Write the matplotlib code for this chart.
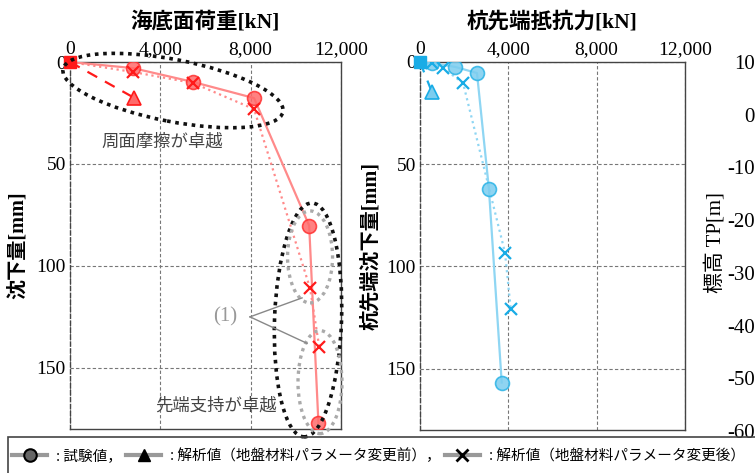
import matplotlib
matplotlib.use("Agg")
import matplotlib.pyplot as plt
from matplotlib.patches import Ellipse, Rectangle
from matplotlib.lines import Line2D
from matplotlib.transforms import ScaledTranslation

plt.rcParams['axes.unicode_minus'] = False

JP = ['Liberation Serif', 'Noto Sans CJK JP']
GOTH = ['Noto Sans CJK JP', 'DejaVu Sans']

# 海底面荷重 - 沈下量
head_test_load = [0, 2790, 5450, 8150, 10590, 11000]
head_test_settle = [0, 3.0, 9.8, 17.7, 80.2, 177]
head_before_load = [0, 2830]
head_before_settle = [0, 17.5]
head_after_load = [0, 2790, 5450, 8150, 10630, 11040]
head_after_settle = [0, 4.9, 10.3, 23.1, 111, 140]

# 杭先端抵抗力 - 杭先端沈下量
tip_test_load = [0, 540, 1590, 2580, 3120, 3700]
tip_test_settle = [0, 0.5, 2.4, 5.4, 62, 156.8]
tip_before_load = [0, 540]
tip_before_settle = [0, 14.7]
tip_after_load = [0, 540, 1040, 1950, 3850, 4110]
tip_after_settle = [0, 0.5, 2.9, 10.3, 93.3, 121]

x_ticks = [0, 4000, 8000, 12000]
y_ticks = [0, 50, 100, 150]
elev_ticks = [10, 0, -10, -20, -30, -40, -50, -60]

legend_labels = [': 試験値，', ': 解析値（地盤材料パラメータ変更前），',
                 ': 解析値（地盤材料パラメータ変更後）']

W, H = 755, 473
fig = plt.figure(figsize=(W / 100, H / 100), dpi=100)


def setup(ax):
    ax.set_xlim(0, 12000)
    ax.set_ylim(180, 0)
    ax.xaxis.tick_top()
    ax.set_xticks(x_ticks)
    ax.set_xticklabels([f"{v:,}" for v in x_ticks])
    ax.set_yticks(y_ticks)
    ax.tick_params(length=0, pad=3, labelsize=14)
    for lab in ax.get_xticklabels() + ax.get_yticklabels():
        lab.set_family('Liberation Serif')
    ax.grid(True, ls=(0, (3, 2)), color='#777', lw=0.8)
    for s in ax.spines.values():
        s.set_color('#444')
        s.set_linewidth(1)
    ax.spines['left'].set_linestyle((0, (3, 2)))


def draw_series(ax, tl, ts, bl, bs, al, as_, line_c, face_c, edge_c, mark_c):
    ax.plot(tl, ts, '-', color=line_c, lw=1.6, zorder=3)
    ax.plot(al, as_, ':', color=line_c, lw=1.6, zorder=3)
    ax.plot(bl, bs, '--', color=mark_c, lw=1.6, dashes=(5, 4), zorder=3)
    ax.plot(tl[1:], ts[1:], 'o', ms=10, mfc=face_c, mec=edge_c, mew=1.2,
            alpha=0.85, zorder=4)
    ax.plot(tl[:1], ts[:1], 's', ms=8, mfc=mark_c, mec=mark_c, zorder=5,
            clip_on=False)
    ax.plot(al[1:], as_[1:], 'x', ms=9, mec=mark_c, mew=1.6, zorder=5)
    ax.plot(bl[1:], bs[1:], '^', ms=10, mfc=face_c, mec=mark_c, mew=1.2,
            zorder=5)


ax1 = fig.add_axes([70 / W, 1 - 429 / H, 271 / W, 367 / H])
setup(ax1)
draw_series(ax1, head_test_load, head_test_settle, head_before_load,
            head_before_settle, head_after_load, head_after_settle,
            '#ff8a8a', '#ff6b6b', '#ff3030', '#ff1a1a')
ax1.set_ylabel('沈下量[mm]', family=JP, fontsize=14.5, weight='bold',
               labelpad=6)

ax2 = fig.add_axes([420 / W, 1 - 430 / H, 265 / W, 368 / H])
setup(ax2)
draw_series(ax2, tip_test_load, tip_test_settle, tip_before_load,
            tip_before_settle, tip_after_load, tip_after_settle,
            '#8fd6f3', '#7ccdef', '#2ab3e6', '#19ace6')
ax2.set_ylabel('杭先端沈下量[mm]', family=JP, fontsize=14.5, weight='bold',
               labelpad=4)

fig.text(205 / W, 1 - 22 / H, '海底面荷重[kN]', family=JP, fontsize=15.5,
         weight='bold', ha='center', va='center')
fig.text(552 / W, 1 - 22 / H, '杭先端抵抗力[kN]', family=JP, fontsize=15.5,
         weight='bold', ha='center', va='center')

# 標高 axis (mostly outside the figure)
ax3 = fig.add_axes([762 / W, 1 - 431 / H, 0.05, 369 / H])
ax3.set_ylim(-60, 10)
ax3.set_yticks(elev_ticks)
ax3.set_yticklabels([str(v) for v in elev_ticks], family='Liberation Serif',
                    fontsize=15)
ax3.tick_params(length=0, pad=5)
ax3.set_xticks([])
for s in ax3.spines.values():
    s.set_visible(False)
ax3.patch.set_visible(False)
fig.text(715 / W, 1 - 243 / H, '標高 TP[m]', family=JP, fontsize=15,
         rotation=90, ha='center', va='center')


def ellipse(ax, x, y, w, h, ang, color, lw):
    tr = fig.dpi_scale_trans + ScaledTranslation(x, y, ax.transData)
    e = Ellipse((0, 0), w / 100, h / 100, angle=ang, transform=tr,
                fill=False, ec=color, lw=lw, ls=(0, (1, 1.3)),
                clip_on=False, zorder=6)
    ax.add_patch(e)


ellipse(ax1, 4560, 14, 224, 62, -11, '#111', 2.6)
ellipse(ax1, 10540, 126.5, 67, 234, -2, '#111', 2.6)
ellipse(ax1, 10630, 95.6, 45, 92, 0, '#aaa', 2.4)
ellipse(ax1, 11070, 157, 44, 103, 0, '#aaa', 2.4)

ax1.text(4075, 39, '周面摩擦が卓越', family=GOTH, fontsize=12.5,
         color='#444', ha='center', va='center')
ax1.text(6470, 168.5, '先端支持が卓越', family=GOTH, fontsize=12.5,
         color='#444', ha='center', va='center', zorder=7)
ax1.text(7400, 125, '(1)', family='Liberation Serif', fontsize=15,
         color='#999', ha='right', va='center')
ax1.plot([7970, 10275], [125, 115.7], color='#888', lw=1, zorder=6)
ax1.plot([7970, 10500], [125, 138], color='#888', lw=1, zorder=6)

# legend box
fig.patches.append(Rectangle((8 / W, -0.1), 1.2, (473 - 437) / H + 0.1,
                             transform=fig.transFigure, fill=False,
                             ec='#444', lw=1.2))
handles = [
    Line2D([], [], color='#999', lw=3, marker='o', ms=9, mfc='#666',
           mec='k', mew=1.5),
    Line2D([], [], color='#999', lw=3, marker='^', ms=9, mfc='k', mec='k'),
    Line2D([], [], color='#999', lw=3, marker='x', ms=9, mec='k', mew=2),
]
fig.legend(handles, legend_labels, loc='center left',
           bbox_to_anchor=(12 / W, (473 - 456) / H), ncol=3, frameon=False,
           prop={'family': GOTH, 'size': 10.5}, handlelength=2.4,
           handletextpad=0.65, columnspacing=0.25, borderaxespad=0,
           borderpad=0)

fig.savefig('out.png', dpi=100)
